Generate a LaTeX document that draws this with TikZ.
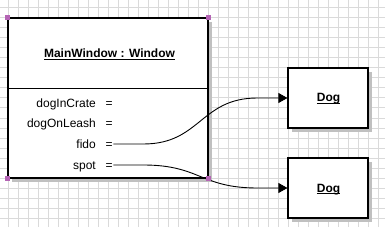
\documentclass[tikz,border=0pt]{standalone}
\usepackage{fontspec}
\setmainfont{Liberation Sans}
\usetikzlibrary{arrows.meta,calc,shadows}
\definecolor{gridc}{RGB}{218,218,218}
\definecolor{shadowc}{RGB}{192,192,192}
\definecolor{handlec}{RGB}{180,100,180}
\newcommand\myul[1]{\setbox0\hbox{#1}\rlap{\rule[-2.3pt]{\wd0}{0.9pt}}\box0}
\tikzset{
 objbox/.style={draw=black, line width=1.2pt, fill=white, inner sep=0pt,
   general shadow={fill=shadowc, shadow xshift=4pt, shadow yshift=-4pt}},
 attr/.style={anchor=base east, inner sep=0pt, font=\fontsize{12pt}{14pt}\selectfont},
 eqsign/.style={anchor=base west, inner sep=0pt, font=\fontsize{12pt}{14pt}\selectfont},
 ttl/.style={anchor=base, inner sep=0pt, font=\fontsize{12pt}{14pt}\selectfont\bfseries},
 link/.style={draw=black, line width=0.9pt, -{Triangle[length=9pt,width=10pt]}},
 handle/.style={fill=handlec},
 gridline/.style={draw=gridc, line width=1pt}
}
\begin{document}
\begin{tikzpicture}[x=1pt,y=-1pt]
\useasboundingbox (0,0) rectangle (385,227);
\fill[white] (0,0) rectangle (385,227);
\foreach \x in {8,18,...,378} \draw[gridline] (\x,0) -- (\x,227);
\foreach \y in {8,18,...,218} \draw[gridline] (0,\y) -- (385,\y);
% main object
\node[objbox, minimum width=200pt, minimum height=160pt] (main) at (108,98) {};
\draw[line width=1pt] (main.west |- 0,89) -- (main.east |- 0,89);
\node[ttl] (title) at (109.5,58) {\myul{MainWindow : Window}};
\node[attr] (a1) at (96,107) {dogInCrate};
\node[attr] (a2) at (96,128) {dogOnLeash};
\node[attr] (a3) at (96,148) {fido};
\node[attr] (a4) at (96,169) {spot};
\node[eqsign] (e1) at (105.5,107) {=};
\node[eqsign] (e2) at (105.5,128) {=};
\node[eqsign] (e3) at (105.5,148) {=};
\node[eqsign] (e4) at (105.5,169) {=};
% dog objects
\node[objbox, minimum width=80pt, minimum height=60pt] (dog1) at (328,98) {};
\node[objbox, minimum width=80pt, minimum height=60pt] (dog2) at (328,188) {};
\node[ttl] (d1) at (328.5,102) {\myul{Dog}};
\node[ttl] (d2) at (328.5,192) {\myul{Dog}};
% connectors
\draw[link] ($(e3.base east)+(0.5,-4)$) -- ++(30,0)
  .. controls +(57,0) and +(-57,0) .. ($(dog1.west)+(-30,0)$) -- (dog1.west);
\draw[link] ($(e4.base east)+(0.5,-4)$) -- ++(30,0)
  .. controls +(57,0) and +(-57,0) .. ($(dog2.west)+(-30,0)$) -- (dog2.west);
% selection handles
\foreach \c in {north west, north east, south west, south east}
  \fill[handle] ($(main.\c)+(-2.5,-2.5)$) rectangle +(5,5);
\end{tikzpicture}
\end{document}
